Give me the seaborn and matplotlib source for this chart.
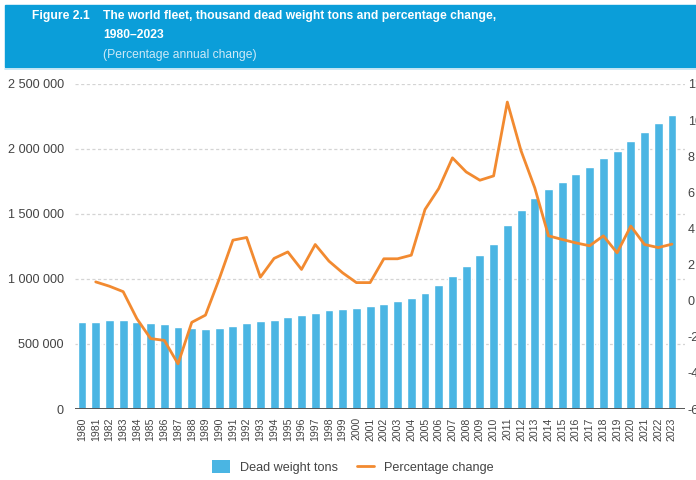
import numpy as np
import pandas as pd
import matplotlib.pyplot as plt
import seaborn as sns
from matplotlib import font_manager as fm
from matplotlib.patches import Rectangle, Patch
from matplotlib.lines import Line2D
from matplotlib.ticker import FuncFormatter

# ─── DATA ─────────────────────────────────────────────────────────────────────
anos = list(range(1980, 2024))
dwt_mil = [670, 670, 681, 681, 672, 662, 655, 628, 620, 612,
           623, 640, 664, 675, 685, 705, 723, 741, 762, 772,
           780, 790, 808, 828, 856, 895, 951, 1025, 1102, 1182,
           1269, 1413, 1528, 1623, 1690, 1748, 1805, 1864, 1928, 1987,
           2064, 2131, 2198, 2264]
dwt = [v * 1000 for v in dwt_mil]
variacao_pct = [np.nan, 1.04, 0.8, 0.5, -1.0, -2.1, -2.2, -3.5, -1.2, -0.8,
                1.2, 3.35, 3.5, 1.3, 2.34, 2.7, 1.73, 3.11, 2.19, 1.54,
                1.0, 1.0, 2.32, 2.32, 2.52, 5.05, 6.21, 7.91, 7.13, 6.67,
                6.91, 11.0, 8.3, 6.25, 3.59, 3.39, 3.2, 3.04, 3.59, 2.65,
                4.13, 3.11, 2.94, 3.13]

df = pd.DataFrame({"ano": [str(a) for a in anos], "dwt": dwt,
                   "pct": variacao_pct, "pos": np.arange(len(anos))})

# ─── CONFIGURAÇÃO DE PLOT ─────────────────────────────────────────────────────
sns.set_theme(style="white")
nomes = {f.name for f in fm.fontManager.ttflist}
if 'Liberation Sans Narrow' in nomes:
    plt.rcParams['font.family'] = ['Liberation Sans Narrow', 'DejaVu Sans']
    k = 1.0
else:
    plt.rcParams['font.family'] = ['Liberation Sans', 'DejaVu Sans']
    k = 0.84
plt.rcParams['axes.unicode_minus'] = False

AZUL = '#4ab5e3'
LARANJA = '#f28a30'
CINZA = '#555555'
TXT = '#444444'

fig = plt.figure(figsize=(6.96, 4.8), dpi=100)

# cabeçalho azul
fig.patches.append(Rectangle((5 / 696, 1 - 67 / 480), 1, 62 / 480,
                             transform=fig.transFigure, color='#0b9ed9', zorder=0))
fig.lines.append(Line2D([5 / 696, 1], [1 - 68.5 / 480] * 2, transform=fig.transFigure,
                        color='#bfe3f3', lw=1.2))
fig.text(32 / 696, 1 - 16 / 480, 'Figure 2.1', color='white', fontsize=10.4 * k,
         fontweight='bold', va='center')
fig.text(103 / 696, 1 - 16 / 480,
         'The world fleet, thousand dead weight tons and percentage change,',
         color='white', fontsize=10.4 * k, fontweight='bold', va='center')
fig.text(103 / 696, 1 - 35.5 / 480, '1980–2023', color='white', fontsize=10.4 * k,
         fontweight='bold', va='center')
fig.text(103 / 696, 1 - 55 / 480, '(Percentage annual change)', color='#cde9f7',
         fontsize=10.4 * k, va='center')

# barras (eixo esquerdo)
ax = fig.add_axes([75 / 696, 1 - 409 / 480, 610 / 696, 325 / 480])
sns.barplot(data=df, x='ano', y='dwt', color=AZUL, width=0.65, saturation=1,
            ax=ax, zorder=2)
ax.set_xlim(-0.51, 43.95)
ax.set_ylim(0, 2_500_000)
ax.set_yticks(np.arange(0, 2_500_001, 500_000))
ax.yaxis.set_major_formatter(FuncFormatter(lambda v, _: f"{int(v):,}".replace(',', ' ')))
ax.grid(axis='y', linestyle=(0, (2.5, 2)), color='#d4d4d4', lw=0.9, zorder=0)
ax.set_axisbelow(True)
ax.axhline(0, color=CINZA, lw=1.4, zorder=3)
for s in ax.spines.values():
    s.set_visible(False)
ax.set_xlabel('')
ax.set_ylabel('')
ax.tick_params(axis='y', labelsize=10.8 * k, labelcolor=TXT, length=0, pad=8)
ax.tick_params(axis='x', labelsize=9 * k, labelcolor=TXT, length=0,
               labelrotation=90, pad=6)

# variação percentual (eixo direito)
ax2 = ax.twinx()
sns.lineplot(data=df, x='pos', y='pct', color=LARANJA, lw=2, ax=ax2, zorder=4)
ax2.set_ylim(-6, 12)
ax2.set_yticks(np.arange(-6, 13, 2))
ax2.set_ylabel('')
ax2.grid(False)
for s in ax2.spines.values():
    s.set_visible(False)
ax2.tick_params(axis='y', labelsize=10.8 * k, labelcolor=TXT, length=0, pad=2)

handles = [Patch(facecolor=AZUL, edgecolor='none'),
           Line2D([0], [0], color=LARANJA, lw=2)]
fig.legend(handles, ['Dead weight tons', 'Percentage change'], loc='center',
           bbox_to_anchor=(353 / 696, 1 - 467 / 480), ncol=2, frameon=False,
           fontsize=10.8 * k, handlelength=1.4, handleheight=1.2, columnspacing=1.5,
           labelcolor=TXT)

plt.savefig('out.png', dpi=100)
plt.close()
